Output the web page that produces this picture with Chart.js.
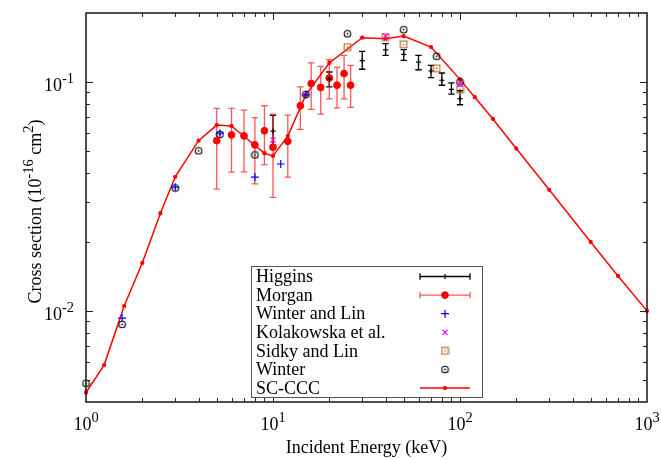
<!DOCTYPE html>
<html>
<head>
<meta charset="utf-8">
<script src="https://cdn.jsdelivr.net/npm/chart.js@4/dist/chart.umd.min.js"></script>
<style>
  html, body { margin: 0; padding: 0; background: #ffffff; }
  canvas { display: block; }
</style>
</head>
<body>
<canvas id="chart" width="661" height="459"></canvas>
<script>
// Cross section versus incident energy (log-log)

// SC-CCC calculation
const sccEnergy = [1, 1.25, 1.6, 2, 2.5, 3, 4, 5, 6, 7, 8, 9, 10, 12, 15, 20, 30, 40, 50, 70, 100, 120, 150, 200, 300, 500, 700, 1000];
const sccValue  = [0.0044, 0.0058, 0.0105, 0.0162, 0.0267, 0.0385, 0.0554, 0.0648, 0.0642, 0.0579, 0.0528, 0.0488, 0.0475, 0.058, 0.088, 0.121, 0.156, 0.1545, 0.1585, 0.142, 0.1026, 0.0858, 0.0689, 0.0512, 0.0338, 0.02, 0.0142, 0.01];

// Higgins (with error bars)
const higginsEnergy = [10, 20, 30, 40, 50, 60, 70, 80, 90, 100];
const higginsValue  = [0.061, 0.103, 0.124, 0.138, 0.132, 0.122, 0.1116, 0.1017, 0.0927, 0.0845];
const higginsLow    = [0.0508, 0.0951, 0.1136, 0.1306, 0.1243, 0.113, 0.1045, 0.0967, 0.0884, 0.0795];
const higginsHigh   = [0.0715, 0.1105, 0.136, 0.147, 0.1384, 0.1306, 0.118, 0.1094, 0.099, 0.0915];

// Morgan (with error bars)
const morganEnergy = [5, 6, 7, 8, 9, 10, 12, 14, 16, 18, 20, 22, 24, 26];
const morganValue  = [0.0554, 0.0587, 0.0581, 0.0531, 0.0612, 0.0519, 0.055, 0.0787, 0.0984, 0.0946, 0.1041, 0.0968, 0.1088, 0.0968];
const morganLow    = [0.034, 0.0404, 0.0405, 0.0359, 0.0435, 0.0313, 0.0384, 0.062, 0.0759, 0.0724, 0.0844, 0.077, 0.0844, 0.0774];
const morganHigh   = [0.0766, 0.0766, 0.0753, 0.0698, 0.0787, 0.0724, 0.0716, 0.0951, 0.121, 0.117, 0.125, 0.116, 0.1306, 0.118];

// Winter and Lin
const winterLinEnergy = [1.56, 3, 5.2, 8, 11, 15];
const winterLinValue  = [0.0093, 0.0347, 0.0597, 0.0384, 0.0438, 0.0878];

// Kolakowska et al.
const kolakowskaEnergy = [10, 40, 100];
const kolakowskaValue  = [0.0558, 0.159, 0.0977];

// Sidky and Lin
const sidkyEnergy = [25, 40, 50, 75, 100];
const sidkyValue  = [0.142, 0.157, 0.146, 0.1148, 0.0927];

// Winter
const winterEnergy = [1, 1.56, 3, 4, 5.2, 8, 15, 25, 50, 75, 100];
const winterValue  = [0.00483, 0.00873, 0.0344, 0.05, 0.059, 0.048, 0.0882, 0.1623, 0.169, 0.1294, 0.1];

// Axis ticks: value, mantissa text and exponent text
const xTickValues = [1, 10, 100, 1000];
const xTickBase   = ['10', '10', '10', '10'];
const xTickExp    = ['0', '1', '2', '3'];
const yTickValues = [0.01, 0.1];
const yTickBase   = ['10', '10'];
const yTickExp    = ['-2', '-1'];

const seriesNames = ['Higgins', 'Morgan', 'Winter and Lin', 'Kolakowska et al.', 'Sidky and Lin', 'Winter', 'SC-CCC'];
const xTitle = 'Incident Energy (keV)';
// y title pieces: [text, superscript?]
const yTitleParts = [['Cross section (10', false], ['-16', true], [' cm', false], ['2', true], [')', false]];

const SERIF = '"Liberation Serif", "Times New Roman", Times, serif';
const FONT_PX = 18;
const SUP_PX = 14.4;

const pts = (xs, ys) => xs.map((x, i) => ({ x: x, y: ys[i] }));

// Marker images: open circle / open square, each with a dot at its centre
function dottedMarker(shape, color, size) {
  const c = document.createElement('canvas');
  c.width = size; c.height = size;
  const g = c.getContext('2d');
  const m = size / 2;
  g.strokeStyle = color;
  g.fillStyle = color;
  g.lineWidth = 1.1;
  if (shape === 'circle') {
    g.beginPath(); g.arc(m, m, m - 1.2, 0, Math.PI * 2); g.stroke();
  } else {
    g.strokeRect(1.2, 1.2, size - 2.4, size - 2.4);
  }
  g.beginPath(); g.arc(m, m, 0.9, 0, Math.PI * 2); g.fill();
  return c;
}
const circleDot = dottedMarker('circle', '#000000', 9);
const squareDot = dottedMarker('square', '#b5651d', 9);

// Vertical error bars under the markers
const errorBars = {
  id: 'errorBars',
  beforeDatasetsDraw(chart) {
    const ctx = chart.ctx;
    const xs = chart.scales.x, ys = chart.scales.y;
    chart.data.datasets.forEach(ds => {
      if (!ds.errLow) return;
      ctx.save();
      ctx.strokeStyle = ds.errColor;
      ctx.lineWidth = 1.3;
      ds.data.forEach((p, i) => {
        const px = xs.getPixelForValue(p.x);
        const yl = ys.getPixelForValue(ds.errLow[i]);
        const yh = ys.getPixelForValue(ds.errHigh[i]);
        const cap = 3.2;
        ctx.beginPath();
        ctx.moveTo(px, yl); ctx.lineTo(px, yh);
        ctx.moveTo(px - cap, yl); ctx.lineTo(px + cap, yl);
        ctx.moveTo(px - cap, yh); ctx.lineTo(px + cap, yh);
        ctx.stroke();
      });
      ctx.restore();
    });
  }
};

// Power-of-ten label: mantissa with a raised, smaller exponent
function powerLabel(ctx, base, exp, x, baseline, align) {
  ctx.font = FONT_PX + 'px ' + SERIF;
  const wb = ctx.measureText(base).width;
  ctx.font = SUP_PX + 'px ' + SERIF;
  const we = ctx.measureText(exp).width;
  const total = wb + we;
  let x0 = align === 'right' ? x - total : x - total / 2;
  ctx.textAlign = 'left';
  ctx.textBaseline = 'alphabetic';
  ctx.font = FONT_PX + 'px ' + SERIF;
  ctx.fillText(base, x0, baseline);
  ctx.font = SUP_PX + 'px ' + SERIF;
  ctx.fillText(exp, x0 + wb, baseline - 8.5);
}

// Plot frame, inward ticks on all four sides, tick labels and y title
const frame = {
  id: 'frame',
  afterDraw(chart) {
    const ctx = chart.ctx;
    const a = chart.chartArea;
    const xs = chart.scales.x, ys = chart.scales.y;
    ctx.save();
    ctx.strokeStyle = '#222222';
    ctx.lineWidth = 1;
    ctx.beginPath();
    const major = 7, minor = 4;
    for (let d = 1; d < 1000; d *= 10) {
      for (let k = 1; k <= 9; k++) {
        const v = d * k;
        if (v <= xs.min || v >= xs.max) continue;
        const px = Math.round(xs.getPixelForValue(v)) + 0.5;
        const len = k === 1 ? major : minor;
        ctx.moveTo(px, a.bottom); ctx.lineTo(px, a.bottom - len);
        ctx.moveTo(px, a.top); ctx.lineTo(px, a.top + len);
      }
    }
    for (let d = 0.001; d < 1; d *= 10) {
      for (let k = 1; k <= 9; k++) {
        const v = d * k;
        if (v <= ys.min * 1.0001 || v >= ys.max * 0.9999) continue;
        const py = Math.round(ys.getPixelForValue(v)) + 0.5;
        const len = k === 1 ? major : minor;
        ctx.moveTo(a.left, py); ctx.lineTo(a.left + len, py);
        ctx.moveTo(a.right, py); ctx.lineTo(a.right - len, py);
      }
    }
    ctx.stroke();
    ctx.lineWidth = 1.6;
    ctx.strokeRect(a.left, a.top, a.right - a.left, a.bottom - a.top);

    ctx.fillStyle = '#000000';
    xTickValues.forEach((v, i) => {
      powerLabel(ctx, xTickBase[i], xTickExp[i], xs.getPixelForValue(v), a.bottom + 28, 'center');
    });
    yTickValues.forEach((v, i) => {
      powerLabel(ctx, yTickBase[i], yTickExp[i], a.left - 12, ys.getPixelForValue(v) + 9.5, 'right');
    });

    // rotated y title with superscripts
    const widths = yTitleParts.map(([t, sup]) => {
      ctx.font = (sup ? SUP_PX : FONT_PX) + 'px ' + SERIF;
      return ctx.measureText(t).width;
    });
    const total = widths.reduce((s, w) => s + w, 0);
    ctx.translate(41, (a.top + a.bottom) / 2 + 4);
    ctx.rotate(-Math.PI / 2);
    let cx = -total / 2;
    ctx.textAlign = 'left';
    ctx.textBaseline = 'alphabetic';
    yTitleParts.forEach(([t, sup], i) => {
      ctx.font = (sup ? SUP_PX : FONT_PX) + 'px ' + SERIF;
      ctx.fillText(t, cx, sup ? -8.5 : 0);
      cx += widths[i];
    });
    ctx.restore();
  }
};

// Key box: labels on the left, line/marker samples on the right
const keyBox = {
  id: 'keyBox',
  afterDraw(chart) {
    const ctx = chart.ctx;
    const left = 251, top = 266, right = 482, bottom = 397;
    const rowTop = 276.5, rowStep = 18.6;
    const sx0 = 420, sx1 = 470, sxm = 445;
    ctx.save();
    ctx.fillStyle = '#ffffff';
    ctx.fillRect(left, top, right - left, bottom - top);
    ctx.strokeStyle = '#555555';
    ctx.lineWidth = 1;
    ctx.strokeRect(left + 0.5, top + 0.5, right - left, bottom - top);
    ctx.font = FONT_PX + 'px ' + SERIF;
    ctx.textAlign = 'left';
    ctx.textBaseline = 'middle';
    chart.data.datasets.forEach((ds, i) => {
      const y = rowTop + i * rowStep;
      ctx.fillStyle = '#000000';
      ctx.fillText(ds.label, 256, y + 1);
      if (ds.errLow) {
        ctx.strokeStyle = ds.errColor;
        ctx.lineWidth = 1.3;
        ctx.beginPath();
        ctx.moveTo(sx0, y); ctx.lineTo(sx1, y);
        ctx.moveTo(sx0, y - 3.2); ctx.lineTo(sx0, y + 3.2);
        ctx.moveTo(sx1, y - 3.2); ctx.lineTo(sx1, y + 3.2);
        ctx.stroke();
      }
      if (ds.showLine) {
        ctx.strokeStyle = ds.borderColor;
        ctx.lineWidth = ds.borderWidth;
        ctx.beginPath(); ctx.moveTo(sx0, y); ctx.lineTo(sx1, y); ctx.stroke();
      }
      const style = ds.pointStyle;
      const r = ds.pointRadius;
      if (style instanceof HTMLCanvasElement) {
        ctx.drawImage(style, sxm - style.width / 2, y - style.height / 2);
      } else {
        ctx.fillStyle = ds.backgroundColor;
        ctx.strokeStyle = ds.borderColor;
        ctx.lineWidth = ds.borderWidth;
        Chart.helpers.drawPoint(ctx, {
          pointStyle: style, radius: r, rotation: 0, borderWidth: ds.borderWidth
        }, sxm, y);
      }
    });
    ctx.restore();
  }
};

const zeroPad = s => { s.paddingLeft = 0; s.paddingRight = 0; s.paddingTop = 0; s.paddingBottom = 0; };

const datasets = [
  {
    label: seriesNames[0], data: pts(higginsEnergy, higginsValue),
    errLow: higginsLow, errHigh: higginsHigh, errColor: '#000000',
    pointStyle: 'cross', pointRadius: 2.6, borderColor: '#000000', backgroundColor: '#000000', borderWidth: 1.2
  },
  {
    label: seriesNames[1], data: pts(morganEnergy, morganValue),
    errLow: morganLow, errHigh: morganHigh, errColor: 'rgba(255,20,20,0.72)',
    pointStyle: 'circle', pointRadius: 3.4, borderColor: '#ff0000', backgroundColor: '#ff0000', borderWidth: 1
  },
  {
    label: seriesNames[2], data: pts(winterLinEnergy, winterLinValue),
    pointStyle: 'cross', pointRadius: 4, borderColor: '#0000ff', backgroundColor: '#0000ff', borderWidth: 1.2
  },
  {
    label: seriesNames[3], data: pts(kolakowskaEnergy, kolakowskaValue),
    pointStyle: 'crossRot', pointRadius: 3.6, borderColor: '#ff00ff', backgroundColor: '#ff00ff', borderWidth: 1.2
  },
  {
    label: seriesNames[4], data: pts(sidkyEnergy, sidkyValue),
    pointStyle: squareDot, pointRadius: 4.5, borderColor: '#b5651d', backgroundColor: '#b5651d', borderWidth: 1
  },
  {
    label: seriesNames[5], data: pts(winterEnergy, winterValue),
    pointStyle: circleDot, pointRadius: 4.5, borderColor: '#000000', backgroundColor: '#000000', borderWidth: 1
  },
  {
    label: seriesNames[6], data: pts(sccEnergy, sccValue), showLine: true,
    pointStyle: 'circle', pointRadius: 1.4, borderColor: '#ff0000', backgroundColor: '#ff0000', borderWidth: 1.5
  }
];

Chart.defaults.font.family = SERIF;
Chart.defaults.font.size = FONT_PX;
Chart.defaults.color = '#000000';

new Chart(document.getElementById('chart'), {
  type: 'scatter',
  data: { datasets: datasets },
  options: {
    responsive: false,
    animation: false,
    devicePixelRatio: 1,
    clip: false,
    layout: { padding: { left: 0, top: 13, right: 14, bottom: 0 } },
    elements: { line: { tension: 0 } },
    plugins: { legend: { display: false }, tooltip: { enabled: false } },
    scales: {
      x: {
        type: 'logarithmic', min: 1, max: 1000,
        grid: { display: false, drawTicks: false },
        border: { display: false },
        afterBuildTicks: s => { s.ticks = xTickValues.map(v => ({ value: v })); },
        afterFit: s => { s.height = 57; zeroPad(s); },
        ticks: { display: false },
        title: { display: true, text: xTitle, font: { size: FONT_PX }, padding: { top: 0, bottom: 0 } }
      },
      y: {
        type: 'logarithmic', min: 0.004, max: 0.2,
        grid: { display: false, drawTicks: false },
        border: { display: false },
        afterBuildTicks: s => { s.ticks = yTickValues.map(v => ({ value: v })); },
        afterFit: s => { s.width = 86; zeroPad(s); },
        ticks: { display: false },
        title: { display: false }
      }
    }
  },
  plugins: [errorBars, frame, keyBox]
});
</script>
</body>
</html>
